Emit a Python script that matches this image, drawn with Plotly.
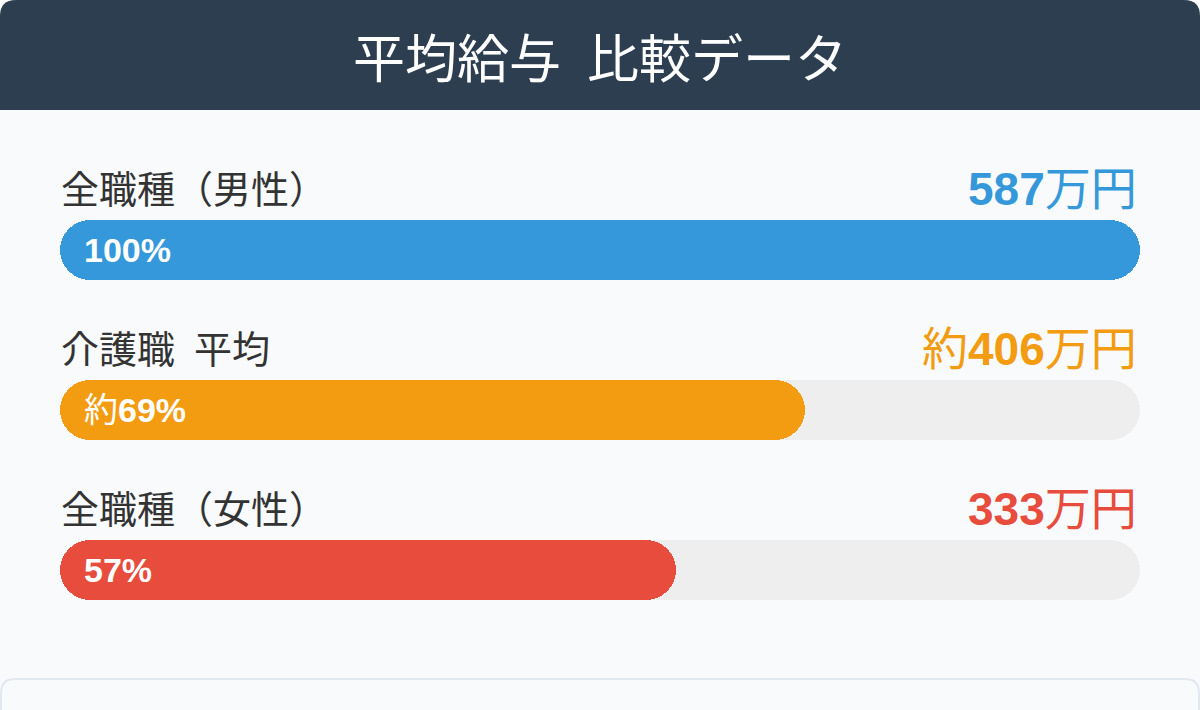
import plotly.graph_objects as go

# data
categories = ["全職種（男性）", "介護職\u2002平均", "全職種（女性）"]
salaries = [587, 406, 333]            # 万円
salary_prefix = ["", "約", ""]
pct = [100, 69, 57]                   # share of the top salary
pct_prefix = ["", "約", ""]
colors = ["#3498db", "#f39c12", "#e74c3c"]
title = "平均給与\u2002比較データ"

W, H = 1200, 710
HEADER_H = 110
ROW_PX = 160          # distance between bar centres
FIRST_PX = 250        # centre of the first bar
BAR_PX = 60
FONT = "Liberation Sans, Noto Sans CJK JP, sans-serif"

rows = list(range(len(categories)))


def px_x(x):
    return x / W


def px_y(y):
    return 1 - y / H


def rounded_top(x0, y0, x1, y1, r):
    # path in paper coords, rounded top corners only
    return (f"M {px_x(x0)},{px_y(y1)} L {px_x(x0)},{px_y(y0 + r)} "
            f"Q {px_x(x0)},{px_y(y0)} {px_x(x0 + r)},{px_y(y0)} "
            f"L {px_x(x1 - r)},{px_y(y0)} "
            f"Q {px_x(x1)},{px_y(y0)} {px_x(x1)},{px_y(y0 + r)} "
            f"L {px_x(x1)},{px_y(y1)} Z")


fig = go.Figure()

# grey tracks (split in two overlapping halves so both ends get rounded)
track = dict(orientation="h", width=BAR_PX / ROW_PX, hoverinfo="skip",
             showlegend=False)
fig.add_trace(go.Bar(y=rows, x=[-60] * 3, base=[60] * 3,
                     marker=dict(color="#eeeeee", cornerradius="50%", line_width=0), **track))
fig.add_trace(go.Bar(y=rows, x=[60] * 3, base=[40] * 3,
                     marker=dict(color="#eeeeee", cornerradius="50%", line_width=0), **track))

# coloured bars
fig.add_trace(go.Bar(y=rows, x=[-p * 0.6 for p in pct], base=[p * 0.6 for p in pct],
                     marker=dict(color=colors, cornerradius="50%", line_width=0), **track))
fig.add_trace(go.Bar(y=rows, x=[p * 0.6 for p in pct], base=[p * 0.4 for p in pct],
                     marker=dict(color=colors, cornerradius="50%", line_width=0), **track))

annotations = []
for i in rows:
    annotations.append(dict(
        x=0, y=i, xref="x", yref="y", xanchor="left", yanchor="middle",
        yshift=60, xshift=-1, showarrow=False, text=categories[i],
        font=dict(size=38, color="#333333", family=FONT)))
    annotations.append(dict(
        x=100, y=i, xref="x", yref="y", xanchor="right", yanchor="middle",
        yshift=61, xshift=-1, showarrow=False,
        text=f"{salary_prefix[i]}<b>{salaries[i]}</b>万円",
        font=dict(size=46, color=colors[i], family=FONT)))
    annotations.append(dict(
        x=0, y=i, xref="x", yref="y", xanchor="left", yanchor="middle",
        xshift=22, showarrow=False,
        text=f"{pct_prefix[i]}<b>{pct[i]}%</b>",
        font=dict(size=34, color="white", family=FONT)))

annotations.append(dict(
    x=0.5, y=px_y(60), xref="paper", yref="paper", xanchor="center",
    yanchor="middle", showarrow=False, text=title,
    font=dict(size=52, color="white", family=FONT)))

shapes = [
    # card body
    dict(type="path", xref="paper", yref="paper", layer="below",
         path=rounded_top(0, 0, W, H, 16), fillcolor="#f8fafc", line_width=0),
    # header
    dict(type="path", xref="paper", yref="paper", layer="below",
         path=rounded_top(0, 0, W, HEADER_H, 16), fillcolor="#2c3e50", line_width=0),
    # next card peeking in at the bottom
    dict(type="path", xref="paper", yref="paper", layer="below",
         path=rounded_top(1, 679, W - 1, H + 20, 14), fillcolor="#f8fafc",
         line=dict(color="#e2e8f0", width=2)),
]

top = -FIRST_PX / ROW_PX
bottom = (H - FIRST_PX) / ROW_PX

fig.update_layout(
    width=W, height=H,
    margin=dict(l=0, r=0, t=0, b=0),
    paper_bgcolor="white",
    plot_bgcolor="rgba(0,0,0,0)",
    barmode="overlay",
    bargap=0,
    showlegend=False,
    annotations=annotations,
    shapes=shapes,
    xaxis=dict(range=[0, 100], domain=[60 / W, 1140 / W], visible=False, fixedrange=True),
    yaxis=dict(range=[bottom, top], domain=[0, 1], visible=False, fixedrange=True),
)

fig.write_html("out.html", config={"displayModeBar": False},
               post_script="document.body.style.margin='0';")
